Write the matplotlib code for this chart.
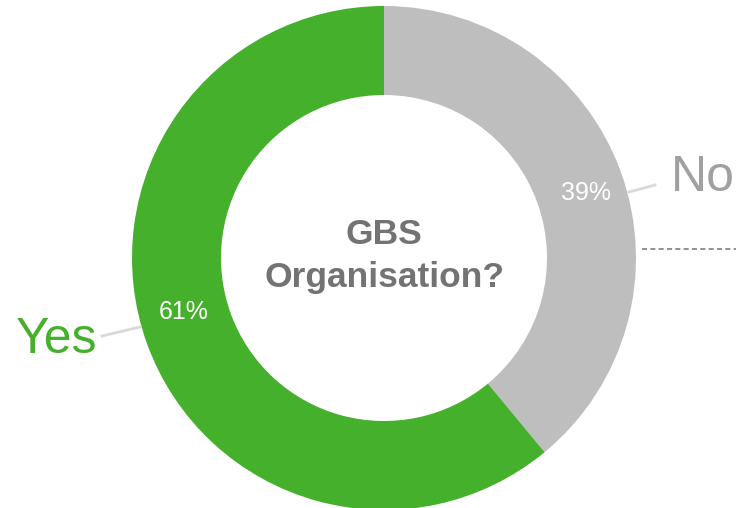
import numpy as np
import matplotlib
matplotlib.use("Agg")
import matplotlib.pyplot as plt

plt.rcParams["font.family"] = ["Liberation Sans", "DejaVu Sans"]

# data
labels = ["No", "Yes"]
shares = [39, 61]
colors = ["#BDBEBD", "#45B02C"]
label_colors = ["#A0A0A0", "#45B02C"]
center_title = "GBS\nOrganisation?"

fig = plt.figure(figsize=(7.36, 5.08), dpi=100)
ax = fig.add_axes([0, 0, 1, 1])

cx, cy, r_out, ring = 384, 250, 252, 89
wedges, _, pcts = ax.pie(
    shares, colors=colors, startangle=90, counterclock=False,
    center=(cx, cy), radius=r_out, wedgeprops=dict(width=ring, linewidth=0),
    autopct="%d%%", textprops=dict(color="white", fontsize=18),
)

# percent labels sit a little off the wedge middles in the original
for t, (ang, rad) in zip(pcts, [(17.8, 212), (195, 207)]):
    a = np.deg2rad(ang)
    t.set_position((cx + rad * np.cos(a), cy + rad * np.sin(a)))

ax.set_xlim(0, 736)
ax.set_ylim(0, 508)
ax.set_aspect("equal")
ax.axis("off")

ax.text(cx, cy + 2, center_title, ha="center", va="center", fontsize=25.5,
        fontweight="bold", color="#737373", linespacing=1.42)

# outside labels with leader lines
ax.plot([629, 655], [316, 323], color="#D9D9D9", lw=2)
ax.text(671, 330, labels[0], ha="left", va="center", fontsize=36, color=label_colors[0])
ax.plot([102, 140], [172, 181], color="#D9D9D9", lw=2)
ax.text(97, 168, labels[1], ha="right", va="center", fontsize=36, color=label_colors[1])

ax.plot([642, 736], [259, 259], color="#7F7F7F", lw=1.2, ls=(0, (3, 2)))

plt.savefig("out.png", dpi=100)
plt.close()
